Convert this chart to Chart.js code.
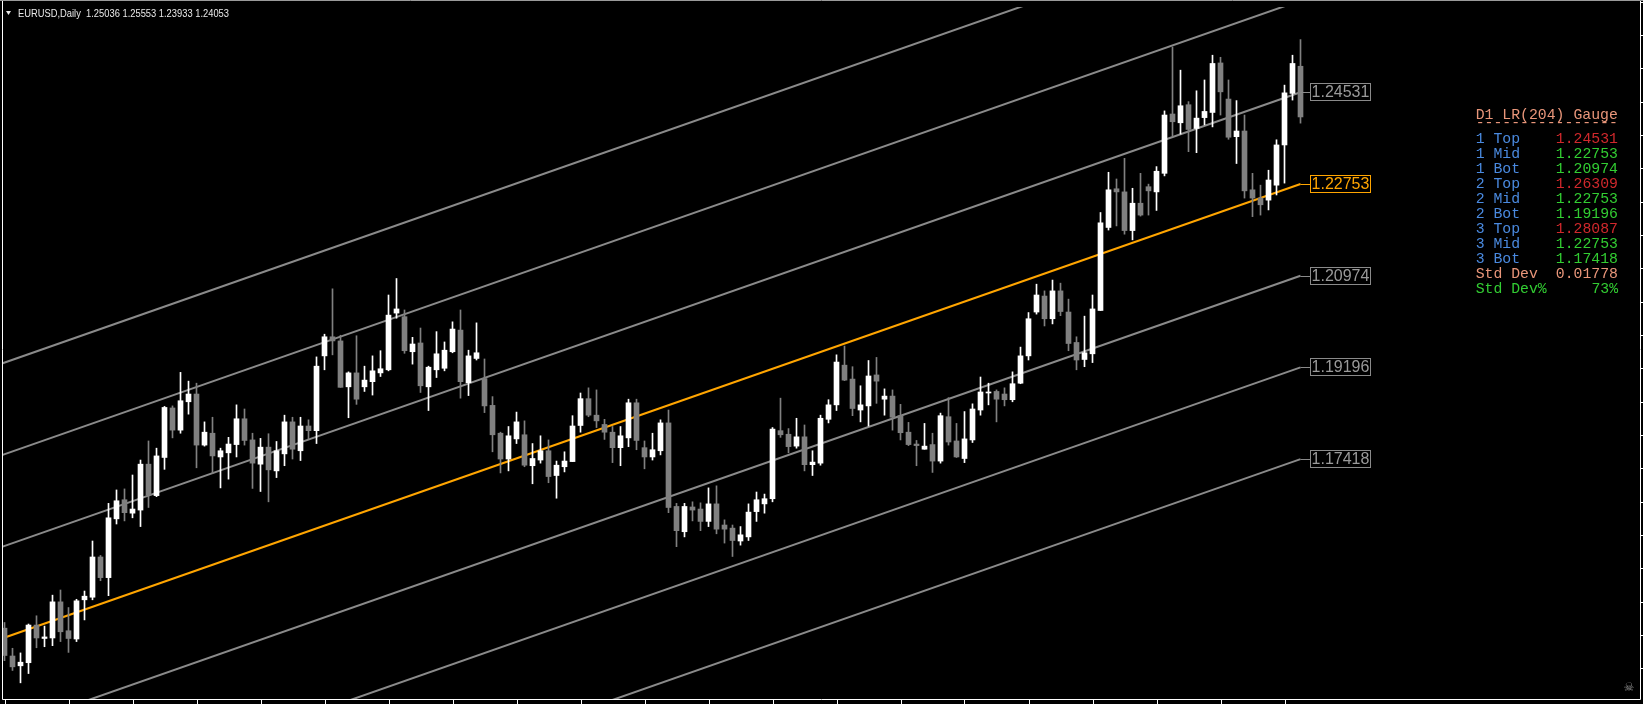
<!DOCTYPE html>
<html>
<head>
<meta charset="utf-8">
<title>EURUSD Daily</title>
<style>
  html, body { margin: 0; padding: 0; background: #000; overflow: hidden; }
  canvas { display: block; }
</style>
</head>
<body>
<canvas id="chart" width="1643" height="704"></canvas>
<script src="https://cdn.jsdelivr.net/npm/chart.js"></script>
<script>
const symbol = "EURUSD,Daily";

// daily bars, oldest first
const opens = [
  1.1414,1.1360,1.1341,1.1347,1.1420,1.1394,1.1395,1.1465,1.1409,1.1393,
  1.1469,1.1474,1.1552,1.1512,1.1626,1.1663,1.1637,1.1643,1.1732,1.1671,
  1.1745,1.1841,1.1798,1.1853,1.1868,1.1769,1.1792,1.1746,1.1754,1.1770,
  1.1820,1.1779,1.1732,1.1765,1.1719,1.1752,1.1814,1.1758,1.1806,1.1797,
  1.1942,1.1979,1.1971,1.1882,1.1909,1.1882,1.1892,1.1909,1.1915,1.2025,
  1.2018,1.1950,1.1967,1.1882,1.1915,1.1918,1.1950,1.1992,1.1890,1.1937,
  1.1898,1.1846,1.1792,1.1742,1.1781,1.1789,1.1729,1.1740,1.1758,1.1710,
  1.1727,1.1737,1.1807,1.1859,1.1827,1.1809,1.1794,1.1764,1.1783,1.1851,
  1.1764,1.1746,1.1758,1.1812,1.1650,1.1601,1.1649,1.1645,1.1621,1.1655,
  1.1614,1.1608,1.1583,1.1591,1.1640,1.1655,1.1665,1.1797,1.1790,1.1767,
  1.1785,1.1731,1.1734,1.1819,1.1847,1.1924,1.1897,1.1837,1.1845,1.1905,
  1.1858,1.1864,1.1826,1.1794,1.1771,1.1761,1.1770,1.1738,1.1824,1.1777,
  1.1743,1.1779,1.1837,1.1870,1.1873,1.1868,1.1857,1.1889,1.1942,1.2027,
  1.2058,1.2014,1.2068,1.2027,1.1968,1.1935,1.1946,1.2030,1.2191,1.2266,
  1.2260,1.2185,1.2238,1.2270,1.2260,1.2296,1.2411,1.2394,1.2429,1.2383,
  1.2404,1.2414,1.2510,1.2440,1.2367,1.2378,1.2264,1.2248,1.2244,1.2273,
  1.2351,1.2451,1.25036
];
const highs = [
  1.1425,1.1375,1.1366,1.1422,1.1438,1.1418,1.1478,1.1488,1.1454,1.1470,
  1.1486,1.1583,1.1555,1.1656,1.1682,1.1684,1.1711,1.1740,1.1777,1.1763,
  1.1844,1.1845,1.1910,1.1893,1.1889,1.1814,1.1823,1.1763,1.1784,1.1847,
  1.1839,1.1792,1.1782,1.1791,1.1776,1.1827,1.1823,1.1823,1.1818,1.1940,
  1.1984,1.2072,1.1982,1.1911,1.1981,1.1922,1.1942,1.1952,1.2060,1.2092,
  1.2031,1.1978,1.1996,1.1922,1.1989,1.1969,1.2008,1.2031,1.1953,1.2006,
  1.1936,1.1863,1.1794,1.1805,1.1833,1.1816,1.1772,1.1787,1.1779,1.1738,
  1.1756,1.1826,1.1870,1.1880,1.1876,1.1819,1.1805,1.1805,1.1858,1.1858,
  1.1777,1.1792,1.1818,1.1837,1.1656,1.1656,1.1659,1.1657,1.1686,1.1690,
  1.1624,1.1614,1.1611,1.1655,1.1678,1.1674,1.1803,1.1860,1.1801,1.1821,
  1.1808,1.1758,1.1827,1.1857,1.1944,1.1961,1.1921,1.1884,1.1933,1.1939,
  1.1878,1.1876,1.1848,1.1813,1.1778,1.1811,1.1792,1.1831,1.1861,1.1811,
  1.1834,1.1849,1.1901,1.1889,1.1876,1.1880,1.1911,1.1959,1.2026,1.2081,
  1.2068,1.2089,1.2083,1.2052,1.1979,1.2019,1.2060,1.2220,1.2298,1.2285,
  1.2325,1.2267,1.2296,1.2275,1.2309,1.2417,1.2541,1.2496,1.2435,1.2456,
  1.2477,1.2525,1.2521,1.2477,1.2437,1.2409,1.2296,1.2273,1.2302,1.2361,
  1.2467,1.2525,1.25553
];
const lows = [
  1.1351,1.1332,1.1308,1.1326,1.1376,1.1378,1.1380,1.1388,1.1367,1.1388,
  1.1430,1.1469,1.1506,1.1477,1.1616,1.1622,1.1628,1.1611,1.1648,1.1669,
  1.1722,1.1783,1.1792,1.1829,1.1725,1.1767,1.1714,1.1686,1.1703,1.1746,
  1.1769,1.1685,1.1679,1.1659,1.1706,1.1729,1.1742,1.1739,1.1781,1.1772,
  1.1915,1.1944,1.1881,1.1822,1.1848,1.1873,1.1866,1.1902,1.1913,1.2015,
  1.1947,1.1926,1.1871,1.1836,1.1900,1.1913,1.1948,1.1860,1.1865,1.1934,
  1.1832,1.1756,1.1715,1.1719,1.1772,1.1727,1.1694,1.1734,1.1696,1.1666,
  1.1717,1.1737,1.1794,1.1824,1.1803,1.1780,1.1735,1.1729,1.1766,1.1760,
  1.1723,1.1740,1.1750,1.1638,1.1572,1.1591,1.1622,1.1603,1.1611,1.1597,
  1.1579,1.1553,1.1575,1.1584,1.1621,1.1637,1.1659,1.1784,1.1754,1.1763,
  1.1719,1.1710,1.1730,1.1812,1.1836,1.1894,1.1826,1.1814,1.1806,1.1850,
  1.1827,1.1798,1.1779,1.1768,1.1729,1.1761,1.1716,1.1734,1.1769,1.1745,
  1.1735,1.1774,1.1827,1.1847,1.1814,1.1845,1.1853,1.1888,1.1934,1.2023,
  1.2000,1.2004,1.2020,1.1952,1.1915,1.1921,1.1929,1.2030,1.2186,1.2194,
  1.2178,1.2167,1.2213,1.2215,1.2224,1.2291,1.2368,1.2372,1.2338,1.2336,
  1.2390,1.2386,1.2409,1.2362,1.2315,1.2248,1.2212,1.2215,1.2225,1.2254,
  1.2277,1.2438,1.23933
];
const closes = [
  1.1361,1.1339,1.1348,1.1420,1.1395,1.1397,1.1465,1.1407,1.1394,1.1467,
  1.1476,1.1552,1.1512,1.1628,1.1661,1.1638,1.1645,1.1732,1.1672,1.1748,
  1.1842,1.1798,1.1855,1.1868,1.1769,1.1794,1.1748,1.1758,1.1771,1.1820,
  1.1778,1.1734,1.1765,1.1721,1.1758,1.1814,1.1761,1.1806,1.1797,1.1922,
  1.1979,1.1971,1.1881,1.1909,1.1858,1.1895,1.1913,1.1917,1.2021,1.2033,
  1.1952,1.1965,1.1884,1.1920,1.1946,1.1953,1.1994,1.1892,1.1942,1.1948,
  1.1845,1.1789,1.1742,1.1787,1.1814,1.1730,1.1743,1.1758,1.1708,1.1730,
  1.1738,1.1806,1.1859,1.1827,1.1816,1.1794,1.1764,1.1787,1.1851,1.1778,
  1.1746,1.1760,1.1812,1.1648,1.1603,1.1650,1.1643,1.1621,1.1655,1.1606,
  1.1606,1.1584,1.1595,1.1639,1.1663,1.1665,1.1800,1.1789,1.1766,1.1785,
  1.1731,1.1736,1.1821,1.1847,1.1930,1.1895,1.1840,1.1847,1.1903,1.1893,
  1.1864,1.1823,1.1793,1.1770,1.1768,1.1767,1.1738,1.1826,1.1775,1.1746,
  1.1781,1.1839,1.1872,1.1872,1.1858,1.1857,1.1888,1.1942,1.2014,1.2060,
  1.2014,1.2068,1.2028,1.1966,1.1934,1.1948,1.2033,1.2200,1.2264,1.2260,
  1.2185,1.2238,1.2215,1.2262,1.2300,1.2409,1.2396,1.2427,1.2381,1.2403,
  1.2416,1.2509,1.2454,1.2366,1.2378,1.2262,1.2248,1.2235,1.2283,1.2351,
  1.2452,1.2509,1.24053
];

// linear regression channel, LR(204)
const lrNames = ["3 Top", "2 Top", "1 Top", "Mid", "1 Bot", "2 Bot", "3 Bot"];
const lrFromBar = -41;
const lrToBar = 162;
const lrStart = [1.17064, 1.15286, 1.13508, 1.11730, 1.09951, 1.08173, 1.06395];
const lrEnd   = [1.28087, 1.26309, 1.24531, 1.22753, 1.20974, 1.19196, 1.17418];

const gaugeTitle = "D1 LR(204) Gauge";
const gaugeLabels = ["1 Top", "1 Mid", "1 Bot", "2 Top", "2 Mid", "2 Bot", "3 Top", "3 Mid", "3 Bot", "Std Dev", "Std Dev%"];
const gaugeValues = ["1.24531", "1.22753", "1.20974", "1.26309", "1.22753", "1.19196", "1.28087", "1.22753", "1.17418", "0.01778", "73%"];

const bars = opens.map((o, i) => i);
const bullColor = "#ffffff";
const bearColor = "#808080";
const barColors = bars.map(i => closes[i] >= opens[i] ? bullColor : bearColor);

const lineColor = (k) => lrNames[k] === "Mid" ? "#ffa500" : "#8a8a8a";

const datasets = [];
lrNames.forEach((name, k) => {
  datasets.push({
    type: "line",
    label: name,
    data: [{ x: lrFromBar, y: lrStart[k] }, { x: lrToBar, y: lrEnd[k] }],
    borderColor: lineColor(k),
    borderWidth: 2,
    pointRadius: 0,
    tension: 0,
    order: 3
  });
});
datasets.push({
  type: "bar",
  label: "wick",
  data: bars.map(i => ({ x: i, y: [lows[i], highs[i]] })),
  backgroundColor: barColors,
  barThickness: 1,
  grouped: false,
  order: 2
});
datasets.push({
  type: "bar",
  label: "body",
  data: bars.map(i => ({ x: i, y: [opens[i], closes[i]] })),
  backgroundColor: barColors,
  barThickness: 5,
  minBarLength: 1,
  grouped: false,
  order: 1
});

const decor = {
  id: "decor",
  afterDraw(chart) {
    const ctx = chart.ctx;
    const xs = chart.scales.x, ys = chart.scales.y;
    ctx.save();

    // frame
    ctx.strokeStyle = "#ffffff";
    ctx.lineWidth = 1;
    ctx.beginPath();
    ctx.moveTo(2.5, 0); ctx.lineTo(2.5, 699.5);
    ctx.lineTo(1640.5, 699.5); ctx.lineTo(1640.5, 0);
    ctx.stroke();
    ctx.strokeStyle = "#9a9a9a";
    ctx.beginPath(); ctx.moveTo(0, 0.5); ctx.lineTo(1643, 0.5); ctx.stroke();

    // time ticks
    ctx.strokeStyle = "#ffffff";
    ctx.beginPath();
    for (let i = 0; i <= lrToBar; i += 8) {
      const x = Math.round(xs.getPixelForValue(i)) + 0.5;
      ctx.moveTo(x, 700); ctx.lineTo(x, 704);
    }
    // price ticks
    for (let p = 1.24349 + 0.006464 * 3; p > ys.min; p -= 0.006464) {
      const y = Math.round(ys.getPixelForValue(p)) + 0.5;
      if (y < 0 || y > 699) continue;
      ctx.moveTo(1641, y); ctx.lineTo(1643, y);
    }
    ctx.stroke();

    // channel price labels
    ctx.font = '16px "Liberation Sans", Arial, sans-serif';
    ctx.textAlign = "center";
    ctx.textBaseline = "middle";
    const xEnd = xs.getPixelForValue(lrToBar);
    lrNames.forEach((name, k) => {
      const y = Math.round(ys.getPixelForValue(lrEnd[k]));
      if (y < 12 || y > 690) return;
      const c = name === "Mid" ? "#ffa500" : "#8a8a8a";
      ctx.strokeStyle = c;
      ctx.lineWidth = 1;
      ctx.beginPath();
      ctx.moveTo(xEnd, y + 0.5); ctx.lineTo(1310, y + 0.5);
      ctx.stroke();
      ctx.fillStyle = "#000";
      ctx.fillRect(1310, y - 9, 61, 18);
      ctx.strokeRect(1310.5, y - 8.5, 60, 17);
      ctx.fillStyle = name === "Mid" ? "#ffa500" : "#9a9a9a";
      ctx.fillText(lrEnd[k].toFixed(5), 1340.5, y + 1);
    });

    // title
    ctx.fillStyle = "#e8e8e8";
    ctx.beginPath();
    ctx.moveTo(6, 11); ctx.lineTo(11, 11); ctx.lineTo(8.5, 15); ctx.closePath();
    ctx.fill();
    ctx.font = '10.5px "Liberation Sans", Arial, sans-serif';
    ctx.textAlign = "left";
    ctx.textBaseline = "alphabetic";
    const last = opens.length - 1;
    const ohlc = [opens[last], highs[last], lows[last], closes[last]].map(v => v.toFixed(5)).join(" ");
    ctx.fillText(symbol + "  " + ohlc, 18, 16.5, 211);

    // gauge panel
    const x0 = 1475.7, cw = 8.9;
    ctx.font = '14.8px "Liberation Mono", monospace';
    ctx.fillStyle = "#e9967a";
    ctx.fillText(gaugeTitle, x0, 118.5);
    ctx.fillText("-".repeat(16), x0, 127);
    gaugeLabels.forEach((lab, r) => {
      const y = 142.5 + r * 15;
      let lc = "#4a8ae0", vc = "#32cd32";
      if (lab.indexOf("Top") >= 0) vc = "#d0282c";
      if (lab === "Std Dev") { lc = "#e9967a"; vc = "#e9967a"; }
      if (lab === "Std Dev%") { lc = "#32cd32"; vc = "#32cd32"; }
      ctx.fillStyle = lc;
      ctx.fillText(lab, x0, y);
      ctx.fillStyle = vc;
      ctx.fillText(gaugeValues[r], x0 + (16 - gaugeValues[r].length) * cw, y);
    });

    // corner icon
    ctx.fillStyle = "#8a8a8a";
    ctx.font = '12px "DejaVu Sans", sans-serif';
    ctx.textAlign = "center";
    ctx.fillText("\u2620", 1629, 691);

    ctx.restore();
  }
};

new Chart(document.getElementById("chart"), {
  type: "bar",
  data: { datasets: datasets },
  options: {
    responsive: false,
    devicePixelRatio: 1,
    animation: false,
    events: [],
    layout: { padding: { left: 3, right: 3, top: 7, bottom: 5 } },
    scales: {
      x: { type: "linear", min: -0.1875, max: 204.4375, offset: false, display: false },
      y: { type: "linear", min: 1.127664, max: 1.26185, display: false }
    },
    plugins: { legend: { display: false }, tooltip: { enabled: false } }
  },
  plugins: [decor]
});
</script>
</body>
</html>
